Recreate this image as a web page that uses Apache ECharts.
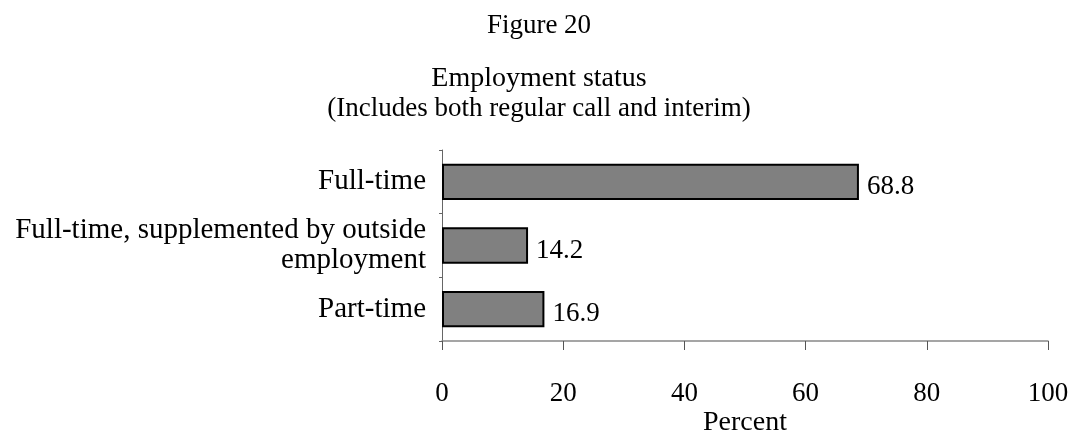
<!DOCTYPE html>
<html><head><meta charset="utf-8">
<script src="https://cdn.jsdelivr.net/npm/echarts@6/dist/echarts.min.js"></script>
<style>html,body{margin:0;padding:0;background:#fff}#c{width:1078px;height:442px}</style>
</head><body><div id="c"></div>
<script>
var categories = ['Full-time', 'Full-time, supplemented by outside\nemployment', 'Part-time'];
var values = [68.8, 14.2, 16.9];
var xTicks = [0, 20, 40, 60, 80, 100];

var FONT = '"Liberation Serif", "Times New Roman", serif';
var chart = echarts.init(document.getElementById('c'));
chart.setOption({
  backgroundColor: '#fff',
  animation: false,
  title: [
    {text: 'Figure 20', left: 'center', top: 7, textStyle: {fontFamily: FONT, fontSize: 27, fontWeight: 'normal', color: '#000'}},
    {text: 'Employment status', left: 'center', top: 60, textStyle: {fontFamily: FONT, fontSize: 28, fontWeight: 'normal', color: '#000'}},
    {text: '(Includes both regular call and interim)', left: 'center', top: 90, textStyle: {fontFamily: FONT, fontSize: 27, fontWeight: 'normal', color: '#000'}}
  ],
  grid: {left: 442, right: 30, top: 150, bottom: 101, containLabel: false},
  xAxis: {
    type: 'value', min: xTicks[0], max: xTicks[xTicks.length - 1], interval: 20,
    axisLine: {show: true, lineStyle: {color: '#888', width: 1.5}},
    axisTick: {show: true, length: 9, lineStyle: {color: '#555', width: 1}},
    splitLine: {show: false},
    axisLabel: {margin: 39, fontFamily: FONT, fontSize: 27, color: '#000'},
    name: 'Percent', nameLocation: 'middle', nameGap: 68,
    nameTextStyle: {fontFamily: FONT, fontSize: 28, color: '#000'}
  },
  yAxis: {
    type: 'category', data: categories, inverse: true,
    axisLine: {show: true, lineStyle: {color: '#666', width: 1}},
    axisTick: {show: true, length: 3, lineStyle: {color: '#666'}},
    axisLabel: {margin: 16, fontFamily: FONT, fontSize: 29, color: '#000', align: 'right', lineHeight: 30}
  },
  series: [{
    type: 'bar', data: values, barWidth: '57%',
    itemStyle: {color: '#808080', borderColor: '#000', borderWidth: 2},
    label: {show: true, position: 'right', distance: 8, offset: [0, 5], fontFamily: FONT, fontSize: 27, color: '#000'}
  }]
});
</script></body></html>
